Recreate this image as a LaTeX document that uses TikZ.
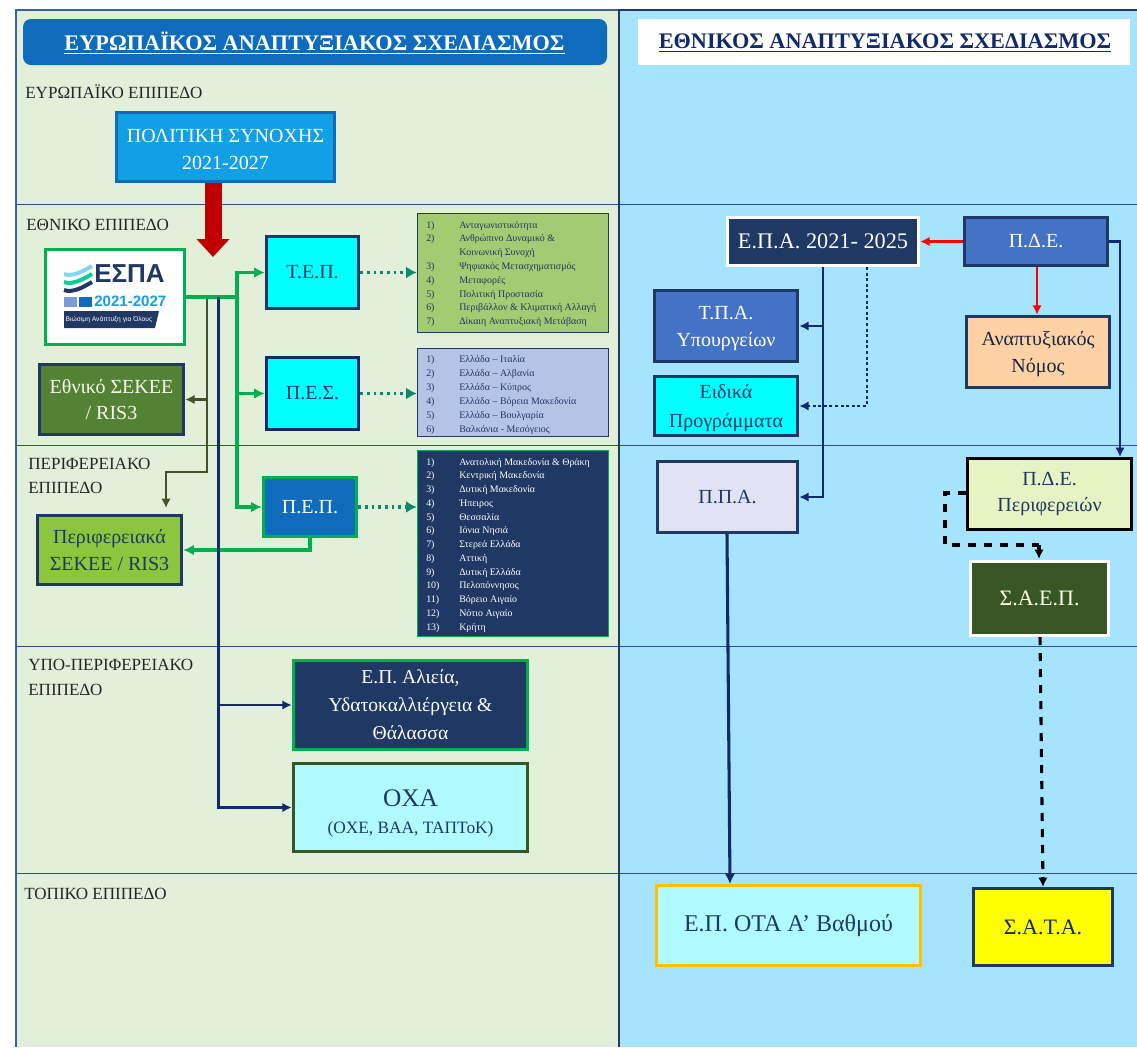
\documentclass[tikz,border=0pt]{standalone}
\usepackage{fontspec}
\setmainfont{Liberation Serif}
\newfontfamily\logofont{Liberation Sans}
\usetikzlibrary{arrows.meta}
\definecolor{navy}{HTML}{1F3864}
\definecolor{deepnavy}{HTML}{12296B}
\definecolor{greenpanel}{HTML}{E2EFD9}
\definecolor{bluepanel}{HTML}{A6E4FD}
\definecolor{midblue}{HTML}{0F6CBD}
\definecolor{skyblue}{HTML}{119FE6}
\definecolor{steelb}{HTML}{4472C4}
\definecolor{linegreen}{HTML}{00B050}
\definecolor{olive}{HTML}{44512F}
\definecolor{teal}{HTML}{0B8A6B}
\definecolor{moss}{HTML}{548235}
\definecolor{darkmoss}{HTML}{375623}
\definecolor{lime}{HTML}{8CC63F}
\definecolor{listgreen}{HTML}{A2CB72}
\definecolor{listblue}{HTML}{B4C4E6}
\definecolor{purecyan}{HTML}{00FFFF}
\definecolor{paleaqua}{HTML}{B0FBFF}
\definecolor{pureyellow}{HTML}{FFFF00}
\definecolor{darkred}{HTML}{C00000}
\definecolor{purered}{HTML}{FF0000}
\definecolor{gold}{HTML}{FFC000}
\tikzset{
	box/.style={draw=navy, line width=2.6pt, inner sep=0pt, align=center, font=\fontsize{15}{20}\selectfont},
	level/.style={anchor=west, align=left, text=black!85, font=\fontsize{12.8}{18.5}\selectfont, inner sep=0pt},
	listtext/.style={anchor=base west, inner sep=0pt, font=\fontsize{7.45}{9}\selectfont},
	greenline/.style={draw=linegreen, line width=2.3pt, -{Latex[length=8pt,width=8pt]}},
	navyline/.style={draw=deepnavy, line width=2.1pt, -{Latex[length=7pt,width=7pt]}},
	oliveline/.style={draw=olive, line width=2pt, -{Latex[length=7pt,width=7pt]}},
	redline/.style={draw=purered, line width=2pt, -{Latex[length=7pt,width=7pt]}},
	dotline/.style={draw=teal, line width=2.4pt, dash pattern=on 2pt off 3pt, -{Latex[length=8pt,width=9pt]}},
	dashline/.style={draw=black, line width=2.3pt, dash pattern=on 6pt off 6pt}
}
% one box, given by its corners in pixels of the page
\newcommand{\boxat}[6][]{\node[box, #1, minimum width={(#4-#2-3)*0.75pt}, minimum height={(#5-#3-3)*0.75pt}] (#6) at ({(#2+#4)/2},{(#3+#5)/2})}
\begin{document}
\begin{tikzpicture}[x=0.75pt, y=-0.75pt]
	\useasboundingbox (0,0) rectangle (1137,1047);
	
	% the two panels and the levels
	\fill[greenpanel] (16,10) rectangle (619,1047);
	\fill[bluepanel] (619,10) rectangle (1137,1047);
	\foreach \y in {204,445,646,873}
		\draw[steelb!70!black, line width=0.7pt] (16,\y) -- (1137,\y);
	\draw[steelb!70!navy, line width=2pt] (16,1047) -- (16,10) -- (619,10);
	\draw[navy, line width=2.2pt] (619,1047) -- (619,10) -- (1137,10);
	
	\fill[midblue, rounded corners=6pt] (23,19) rectangle (607,65);
	\node[text=white, font=\bfseries\fontsize{16.7}{20}\selectfont] (headleft) at (314.5,43) {\underline{ΕΥΡΩΠΑΪΚΟΣ ΑΝΑΠΤΥΞΙΑΚΟΣ ΣΧΕΔΙΑΣΜΟΣ}};
	\fill[white] (638,19) rectangle (1130,65);
	\node[text=deepnavy, font=\bfseries\fontsize{16.7}{20}\selectfont] (headright) at (885,43) {\underline{ΕΘΝΙΚΟΣ ΑΝΑΠΤΥΞΙΑΚΟΣ ΣΧΕΔΙΑΣΜΟΣ}};
	
	\node[level] (l1) at (25,91.5) {ΕΥΡΩΠΑΪΚΟ ΕΠΙΠΕΔΟ};
	\node[level] (l2) at (26,225) {ΕΘΝΙΚΟ ΕΠΙΠΕΔΟ};
	\node[level] (l3) at (28,476) {ΠΕΡΙΦΕΡΕΙΑΚΟ\\ΕΠΙΠΕΔΟ};
	\node[level] (l4) at (28,677.5) {ΥΠΟ-ΠΕΡΙΦΕΡΕΙΑΚΟ\\ΕΠΙΠΕΔΟ};
	\node[level] (l5) at (24,894) {ΤΟΠΙΚΟ ΕΠΙΠΕΔΟ};
	
	% left side
	\boxat[draw=midblue, fill=skyblue, text=white]{115}{111}{336}{183}{synoxi} {\rule{0pt}{14pt}ΠΟΛΙΤΙΚΗ ΣΥΝΟΧΗΣ\\2021-2027};
	\coordinate (redstart) at (213,183);
	\coordinate (redtip) at (213,257);
	\draw[darkred, line width=12.75pt, -{Triangle[length=13.5pt,width=24pt]}] (redstart) -- (redtip);
	
	\boxat[draw=linegreen, fill=white]{44}{248}{186}{346}{espa} {};
	\foreach \yy/\cc in {0/cyan!50!white,8/linegreen!60!cyan,16/navy}
		\draw[\cc, line width=3pt] (64,274+\yy) .. controls (72,277+\yy) and (82,272+\yy) .. (92,266+\yy);
	\node[text=navy, font=\logofont\bfseries\fontsize{19.5}{22}\selectfont, anchor=west, inner sep=0pt] (espaname) at (94,274) {ΕΣΠΑ};
	\node[text=skyblue, font=\logofont\bfseries\fontsize{11.3}{14}\selectfont, anchor=west, inner sep=0pt] (espayears) at (94,301) {2021-2027};
	\fill[steelb!70!white] (64,297) rectangle (77,307);
	\fill[midblue] (79,297) rectangle (92,307);
	\fill[navy] (64,311) -- (159,311) -- (155,328) -- (64,328) -- cycle;
	\node[text=white, font=\logofont\fontsize{5}{5}\selectfont, inner sep=0pt] (espamotto) at (109,319.5) {Βιώσιμη Ανάπτυξη για Όλους};
	
	\boxat[fill=moss, text=white!90!lime]{38}{363}{185}{436}{sekee} {Εθνικό ΣΕΚΕΕ\\/ RIS3};
	\boxat[fill=lime, text=navy]{36}{514}{183}{586}{sekeeper} {Περιφερειακά\\ΣΕΚΕΕ / RIS3};
	\boxat[fill=purecyan, text=navy]{265}{235}{360}{310}{tep} {Τ.Ε.Π.};
	\boxat[draw=deepnavy, fill=purecyan, text=navy]{265}{356}{360}{431}{pes} {Π.Ε.Σ.};
	\boxat[draw=linegreen, fill=midblue, text=white]{262}{476}{358}{538}{pep} {Π.Ε.Π.};
	\boxat[draw=linegreen, fill=navy, text=white, font=\fontsize{14.7}{21}\selectfont]{292}{659}{529}{751}{alieia} {Ε.Π. Αλιεία,\\Υδατοκαλλιέργεια \&\\Θάλασσα};
	\boxat[draw=darkmoss, fill=paleaqua, text=navy, font=\fontsize{19}{20.5}\selectfont]{292}{762}{529}{853}{oxa} {\rule{0pt}{21.5pt}ΟΧΑ\\{\fontsize{13}{16}\selectfont (ΟΧΕ, ΒΑΑ, ΤΑΠΤοΚ)}};
	
	% the three lists
	\boxat[line width=1.2pt, fill=listgreen]{416}{212}{610}{334}{listtep} {};
	\boxat[line width=1.2pt, fill=listblue]{416}{347}{610}{438}{listpes} {};
	\boxat[line width=1.2pt, draw=linegreen, fill=navy]{416}{449}{610}{638}{listpep} {};
	\foreach \n/\t/\yy [count=\i] in {1/Ανταγωνιστικότητα/228, 2/Ανθρώπινο Δυναμικό \&/241, /Κοινωνική Συνοχή/255, 3/Ψηφιακός Μετασχηματισμός/269, 4/Μεταφορές/283, 5/Πολιτική Προστασία/297, 6/Περιβάλλον \& Κλιματική Αλλαγή/310, 7/Δίκαιη Αναπτυξιακή Μετάβαση/324}{
		\ifx\n\empty\else\node[listtext, text=navy] (tepn\i) at (426,\yy) {\n)};\fi
		\node[listtext, text=navy] (tept\i) at (459,\yy) {\t};
	}
	\foreach \n/\t/\yy in {1/Ελλάδα – Ιταλία/362, 2/Ελλάδα – Αλβανία/376, 3/Ελλάδα – Κύπρος/390, 4/Ελλάδα – Βόρεια Μακεδονία/404, 5/Ελλάδα – Βουλγαρία/418, 6/Βαλκάνια - Μεσόγειος/432}{
		\node[listtext, text=navy] (pesn\n) at (426,\yy) {\n)};
		\node[listtext, text=navy] (pest\n) at (459,\yy) {\t};
	}
	\foreach \n/\t [count=\i from 0] in {1/Ανατολική Μακεδονία \& Θράκη, 2/Κεντρική Μακεδονία, 3/Δυτική Μακεδονία, 4/Ήπειρος, 5/Θεσσαλία, 6/Ιόνια Νησιά, 7/Στερεά Ελλάδα, 8/Αττική, 9/Δυτική Ελλάδα, 10/Πελοπόννησος, 11/Βόρειο Αιγαίο, 12/Νότιο Αιγαίο, 13/Κρήτη}{
		\node[listtext, text=white] (pepn\n) at (426,465+13.75*\i) {\n)};
		\node[listtext, text=white] (pept\n) at (459,465+13.75*\i) {\t};
	}
	
	% connectors of the left side
	\coordinate (jgreen) at (237,297);
	\coordinate (jolive) at (207,297);
	\coordinate (jnavy) at (218.5,297);
	\coordinate (bendolive) at (207,472);
	\coordinate (olivetip) at (166,508);
	\draw[oliveline] (jolive) -- (bendolive) -| (olivetip);
	\draw[oliveline] (jolive |- sekee.east) -- (sekee.east);
	\draw[greenline, -] (espa.east) -- (jgreen);
	\draw[greenline] (jgreen) |- (tep.west);
	\draw[greenline] (jgreen) |- (pes.west);
	\draw[greenline] (jgreen) |- (pep.west);
	\draw[greenline] (pep.south) |- (sekeeper.east);
	\draw[navyline] (jnavy) |- (alieia.west);
	\draw[navyline] (jnavy) |- (oxa.west);
	\draw[dotline] (tep.east) -- (tep.east -| listtep.west);
	\draw[dotline] (pes.east) -- (pes.east -| listpes.west);
	\draw[dotline] (pep.east) -- (pep.east -| listpep.west);
	
	% right side
	\boxat[draw=white, fill=navy, text=white, font=\fontsize{16.7}{20}\selectfont]{726}{216}{920}{267}{epa} {Ε.Π.Α. 2021- 2025};
	\boxat[fill=steelb, text=white]{963}{216}{1109}{267}{pde} {Π.Δ.Ε.};
	\boxat[fill=steelb, text=white]{653}{289}{799}{363}{tpa} {\rule{0pt}{14pt}Τ.Π.Α.\\Υπουργείων};
	\boxat[fill=purecyan, text=navy, font=\fontsize{15}{21.5}\selectfont]{653}{375}{799}{437}{eidika} {\rule{0pt}{14pt}Ειδικά\\Προγράμματα};
	\boxat[fill=orange!35!white, text=navy!70!black]{965}{315}{1111}{389}{nomos} {\rule{0pt}{14pt}Αναπτυξιακός\\Νόμος};
	\boxat[fill=blue!8!white!92!gray, text=navy]{656}{460}{799}{534}{ppa} {Π.Π.Α.};
	\boxat[draw=black, fill=yellow!15!white!90!green, text=navy]{966}{457}{1133}{531}{pdeper} {Π.Δ.Ε.\\Περιφερειών};
	\boxat[draw=white, fill=darkmoss, text=white!90!yellow, font=\fontsize{16.5}{20}\selectfont]{969}{560}{1110}{637}{saep} {Σ.Α.Ε.Π.};
	\boxat[draw=gold, fill=paleaqua, text=navy, font=\fontsize{18}{20}\selectfont]{655}{884}{922}{967}{ota} {Ε.Π. ΟΤΑ Α’ Βαθμού};
	\boxat[fill=pureyellow, text=deepnavy, font=\fontsize{16.5}{20}\selectfont]{972}{887}{1114}{967}{sata} {Σ.Α.Τ.Α.};
	
	% connectors of the right side
	\coordinate (jepa) at (823,267);
	\coordinate (jdot) at (867,267);
	\coordinate (jnomos) at (1037,267);
	\coordinate (jsaep) at (1040,637);
	\coordinate (jppa) at (727,534);
	\coordinate (jdash) at (945,493);
	\coordinate (jdashb) at (945,545);
	\coordinate (jdashc) at (1039,545);
	\coordinate (dashtip) at (1039,559);
	\coordinate (pdetip) at (1120,457);
	\coordinate (otatip) at (730,884);
	\coordinate (satatip) at (1043,887);
	\draw[navyline] (jepa) |- (ppa.east);
	\draw[navyline] (jepa |- tpa.east) -- (tpa.east);
	\draw[navyline, dash pattern=on 2.2pt off 2pt] (jdot) |- (eidika.east);
	\draw[redline] (pde.west) -- (epa.east);
	\draw[redline] (jnomos) -- (jnomos |- nomos.north);
	\draw[navyline] (pde.east) -| (pdetip);
	\draw[dashline] (pdeper.west |- jdash) -- (jdash) -- (jdashb) -- (jdashc);
	\draw[dashline, dash pattern=on 5pt off 0pt, -{Latex[length=7pt,width=7pt]}] (jdashc) -- (dashtip);
	\draw[dashline, -{Latex[length=7pt,width=7pt]}] (jsaep) -- (satatip);
	\draw[navyline, line width=2.3pt, -{Latex[length=8pt,width=8pt]}] (jppa) -- (otatip);
\end{tikzpicture}
\end{document}
